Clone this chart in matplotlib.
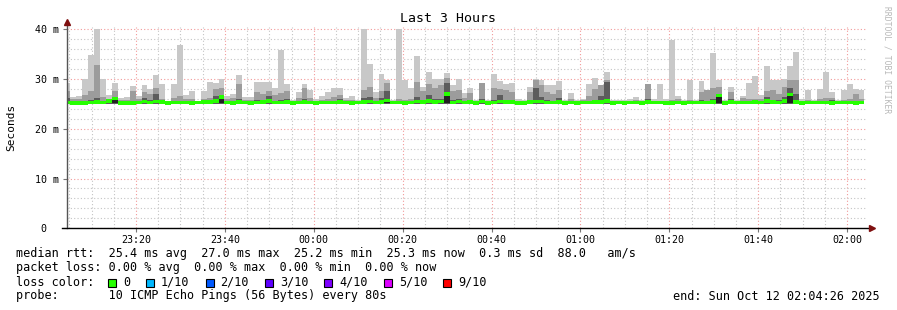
import numpy as np
import matplotlib
matplotlib.use("Agg")
import matplotlib.pyplot as plt
from matplotlib.ticker import MultipleLocator, FixedLocator

# 80 s samples, minutes after 23:00
step_min = 80 / 60
start_min = 3.9

# smoke: top of the outer (light) band, middle band, inner band; median rtt (ms)
rtt_max = [29.3, 26.3, 26.5, 30.1, 34.8, 40.1, 30.1, 26.8, 29.3, 26.1,
           26.3, 28.6, 26.6, 28.8, 27.9, 30.8, 29.0, 25.5, 29.0, 36.8,
           26.8, 27.5, 25.6, 27.5, 29.5, 29.3, 30.1, 26.6, 27.0, 30.8,
           26.3, 26.3, 29.4, 29.4, 29.4, 28.1, 35.9, 29.1, 25.8, 27.3,
           29.1, 27.8, 26.0, 26.5, 27.3, 28.1, 28.1, 26.2, 26.5, 25.8,
           40.1, 33.0, 27.3, 31.0, 29.9, 25.8, 40.1, 29.8, 28.1, 34.6,
           28.5, 31.5, 30.0, 30.0, 31.3, 28.8, 30.1, 27.1, 28.1, 25.8,
           29.3, 25.8, 31.0, 29.6, 29.1, 29.3, 26.0, 25.8, 28.5, 30.0,
           29.8, 28.8, 28.9, 29.6, 25.8, 27.1, 25.8, 26.0, 29.1, 30.3,
           28.8, 31.5, 25.7, 25.8, 25.8, 25.9, 26.3, 25.8, 29.0, 26.0,
           29.1, 25.9, 37.8, 26.6, 25.7, 29.8, 25.7, 29.6, 27.8, 35.3,
           29.9, 25.8, 28.5, 25.7, 26.6, 29.3, 30.6, 26.8, 32.6, 29.8,
           29.8, 30.0, 32.6, 35.4, 26.0, 27.8, 25.7, 27.9, 31.5, 27.3,
           25.8, 27.7, 29.1, 27.9, 27.8]
rtt_mid = [27.6, 26.0, 26.0, 26.8, 27.6, 32.8, 26.4, 26.0, 27.5, 25.8,
           25.8, 27.5, 25.9, 27.3, 26.9, 28.1, 26.0, 25.5, 26.2, 26.6,
           25.9, 26.0, 25.5, 26.0, 26.2, 27.9, 28.1, 25.9, 26.2, 29.0,
           25.8, 25.8, 27.4, 27.0, 27.6, 26.8, 27.1, 27.6, 25.6, 26.2,
           28.1, 26.2, 25.6, 25.8, 26.0, 26.3, 26.8, 25.8, 25.8, 25.5,
           27.7, 28.5, 26.2, 27.5, 29.3, 25.5, 26.0, 25.8, 26.0, 29.5,
           27.5, 29.1, 28.1, 28.8, 30.3, 27.5, 27.8, 26.2, 27.2, 25.5,
           29.3, 25.5, 28.1, 27.9, 27.8, 27.3, 25.6, 25.5, 27.3, 29.9,
           28.8, 27.3, 27.0, 27.7, 25.6, 26.0, 25.5, 25.7, 26.6, 27.9,
           28.8, 29.8, 25.5, 25.5, 25.5, 25.5, 25.8, 25.5, 29.0, 25.6,
           25.6, 25.6, 25.8, 26.0, 25.5, 25.8, 25.5, 27.3, 27.8, 28.1,
           28.5, 25.6, 27.3, 25.5, 26.2, 25.9, 26.0, 25.9, 27.5, 27.8,
           27.0, 28.5, 29.8, 29.8, 25.6, 25.8, 25.5, 26.0, 26.1, 26.2,
           25.5, 25.8, 26.0, 27.0, 26.0]
rtt_dark = [26.1, 25.5, 25.5, 25.6, 25.8, 26.2, 25.5, 25.9, 26.3, 25.5,
            25.5, 25.6, 25.5, 26.2, 25.7, 27.0, 25.5, 25.4, 25.6, 25.6,
            25.5, 25.5, 25.4, 25.5, 25.6, 26.5, 26.6, 25.5, 25.6, 26.0,
            25.5, 25.5, 25.7, 25.6, 26.5, 25.6, 25.8, 25.9, 25.4, 25.5,
            26.0, 25.5, 25.4, 25.5, 25.5, 25.6, 26.0, 25.5, 25.5, 25.4,
            26.2, 26.4, 25.5, 26.2, 27.5, 25.4, 25.6, 25.5, 25.5, 26.4,
            25.8, 26.8, 25.9, 26.0, 29.3, 25.8, 25.9, 25.5, 25.6, 25.4,
            26.0, 25.4, 25.8, 26.8, 25.8, 25.6, 25.4, 25.4, 25.8, 28.1,
            26.4, 25.7, 25.6, 26.2, 25.4, 25.5, 25.4, 25.5, 25.6, 25.8,
            26.5, 29.5, 25.4, 25.4, 25.4, 25.4, 25.5, 25.4, 26.0, 25.4,
            25.5, 25.4, 25.5, 25.5, 25.4, 25.5, 25.4, 25.8, 25.6, 25.9,
            26.8, 25.4, 26.0, 25.4, 25.6, 25.5, 25.6, 25.5, 26.4, 25.8,
            25.7, 26.4, 28.1, 27.0, 25.4, 25.5, 25.4, 25.5, 25.6, 25.7,
            25.4, 25.5, 25.5, 25.6, 25.5]
rtt_median = [25.3, 25.2, 25.2, 25.2, 25.3, 25.4, 25.3, 25.6, 26.1, 25.2,
              25.2, 25.2, 25.3, 25.5, 25.3, 25.5, 25.4, 25.2, 25.3, 25.3,
              25.3, 25.2, 25.3, 25.4, 25.4, 25.6, 26.4, 25.3, 25.2, 25.4,
              25.3, 25.2, 25.3, 25.4, 25.6, 25.3, 25.3, 25.4, 25.2, 25.3,
              25.4, 25.3, 25.2, 25.3, 25.3, 25.3, 25.4, 25.3, 25.2, 25.3,
              25.4, 25.5, 25.3, 25.4, 25.7, 25.3, 25.3, 25.2, 25.3, 25.5,
              25.4, 25.6, 25.4, 25.5, 27.0, 25.3, 25.5, 25.3, 25.4, 25.2,
              25.5, 25.2, 25.3, 25.5, 25.4, 25.4, 25.2, 25.2, 25.4, 25.5,
              25.5, 25.3, 25.3, 25.4, 25.2, 25.3, 25.2, 25.3, 25.3, 25.4,
              25.4, 25.6, 25.2, 25.3, 25.2, 25.3, 25.3, 25.2, 25.4, 25.3,
              25.3, 25.2, 25.2, 25.3, 25.2, 25.3, 25.3, 25.3, 25.3, 25.4,
              26.7, 25.2, 25.4, 25.3, 25.3, 25.3, 25.4, 25.3, 25.6, 25.4,
              25.3, 25.6, 26.9, 25.4, 25.2, 25.3, 25.3, 25.3, 25.3, 25.2,
              25.3, 25.3, 25.3, 25.2, 25.3]

x_ticks = [20, 40, 60, 80, 100, 120, 140, 160, 180]
x_labels = ["23:20", "23:40", "00:00", "00:20", "00:40", "01:00", "01:20", "01:40", "02:00"]
y_ticks = [0, 10, 20, 30, 40]
y_labels = ["0  ", "10 m", "20 m", "30 m", "40 m"]

loss_labels = ["0", "1/10", "2/10", "3/10", "4/10", "5/10", "9/10"]
loss_colors = ["#26ff00", "#00b8ff", "#0059ff", "#5e00ff", "#7e00ff", "#dd00ff", "#ff0000"]

W, H = 897, 310
mono = "DejaVu Sans Mono"
plt.rcParams["font.family"] = mono

fig = plt.figure(figsize=(W / 100, H / 100), dpi=100)
ax = fig.add_axes([67 / W, (H - 228.3) / H, 800 / W, 201 / H])

n = len(rtt_median)
edges = start_min + np.arange(n + 1) * step_min


def ext(a):
    a = np.asarray(a, dtype=float)
    return np.append(a, a[-1])


med = np.asarray(rtt_median)
base = 25.0
ax.fill_between(edges, base, ext(rtt_max), step="post", color="#c8c8c8", lw=0)
ax.fill_between(edges, base, ext(rtt_mid), step="post", color="#9c9c9c", lw=0)
ax.fill_between(edges, base, ext(rtt_dark), step="post", color="#5c5c5c", lw=0)
ax.fill_between(edges, 25.1, ext(med), step="post", color="#222222", lw=0)
ax.fill_between(edges, ext(med - 0.33), ext(med + 0.33), step="post", color="#26ff00", lw=0)

ax.set_xlim(4.47, 184.47)
ax.set_ylim(0, 40.4)

ax.xaxis.set_major_locator(FixedLocator(x_ticks))
ax.xaxis.set_minor_locator(MultipleLocator(5))
ax.set_xticklabels(x_labels)
ax.yaxis.set_major_locator(FixedLocator(y_ticks))
ax.yaxis.set_minor_locator(MultipleLocator(2))
ax.set_yticklabels(y_labels)

ax.set_axisbelow(True)
ax.grid(which="minor", color="#c4c4c4", linestyle=(0, (1, 2)), lw=0.8)
ax.grid(which="major", color="#f29a9a", linestyle=(0, (1, 2)), lw=0.8)

ax.tick_params(which="major", length=3, width=0.8, color="#777777", labelsize=7.2, pad=2)
ax.tick_params(axis="y", which="major", pad=3)
ax.tick_params(which="minor", length=0)

for s in ax.spines.values():
    s.set_visible(False)

# axes lines with arrows
ax.plot([0, 0], [0, 1.03], transform=ax.transAxes, color="#555555", lw=1, clip_on=False)
ax.plot([-0.00625, 1.004], [0, 0], transform=ax.transAxes, color="black", lw=1, clip_on=False)
ax.plot([0], [1.027], transform=ax.transAxes, marker="^", ms=4, color="#7f1010", clip_on=False)
ax.plot([1.006], [0], transform=ax.transAxes, marker=">", ms=4, color="#7f1010", clip_on=False)

fig.text(448 / W, 1 - 19 / H, "Last 3 Hours", ha="center", va="center", fontsize=9.5)
fig.text(11 / W, 1 - 127 / H, "Seconds", ha="center", va="center", rotation=90, fontsize=8)
fig.text(887 / W, 1 - 60 / H, "RRDTOOL / TOBI OETIKER", ha="center", va="center",
         rotation=270, fontsize=5.8, color="#b8b8b8")

fs = 8.5
fig.text(16 / W, 1 - 254 / H,
         "median rtt:  25.4 ms avg  27.0 ms max  25.2 ms min  25.3 ms now  0.3 ms sd  88.0   am/s",
         ha="left", va="center", fontsize=fs)
fig.text(16 / W, 1 - 268 / H,
         "packet loss: 0.00 % avg  0.00 % max  0.00 % min  0.00 % now",
         ha="left", va="center", fontsize=fs)
fig.text(16 / W, 1 - 282 / H, "loss color:", ha="left", va="center", fontsize=fs)
fig.text(16 / W, 1 - 296 / H,
         "probe:       10 ICMP Echo Pings (56 Bytes) every 80s",
         ha="left", va="center", fontsize=fs)
fig.text(880 / W, 1 - 296 / H, "end: Sun Oct 12 02:04:26 2025",
         ha="right", va="center", fontsize=fs)

char_w = 7.1
sx = 108
for lab, col in zip(loss_labels, loss_colors):
    fig.patches.append(plt.Rectangle((sx / W, 1 - 287 / H), 8 / W, 8 / H,
                                     transform=fig.transFigure, facecolor=col,
                                     edgecolor="black", lw=0.8))
    fig.text((sx + 15) / W, 1 - 282 / H, lab, ha="left", va="center", fontsize=fs)
    sx = sx + 15 + len(lab) * char_w + 16

fig.savefig("out.png", dpi=100, facecolor="white")
